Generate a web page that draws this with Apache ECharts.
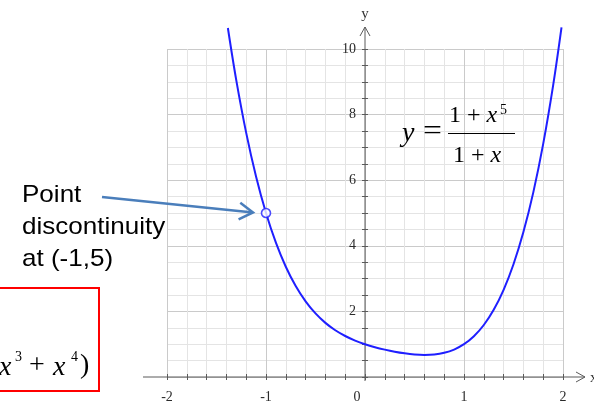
<!DOCTYPE html>
<html><head><meta charset="utf-8">
<script src="https://cdn.jsdelivr.net/npm/echarts@6/dist/echarts.min.js"></script>
<style>html,body{margin:0;padding:0;background:#fff;overflow:hidden}#c{width:594px;height:404px}</style>
</head><body><div id="c"></div>
<script>
// Samples of y = (1 + x^5) / (1 + x) across the plotted range
const xs = [-1.385, -1.3, -1.2, -1.1, -1.0, -0.9, -0.8, -0.7, -0.6, -0.5, -0.4, -0.3, -0.2, -0.1, 0,
            0.1, 0.2, 0.3, 0.4, 0.5, 0.6, 0.7, 0.8, 0.9, 1.0, 1.1, 1.2, 1.3, 1.4, 1.5, 1.6, 1.7, 1.8, 1.9, 1.985];
const ys = [10.64, 9.043, 7.442, 6.105, 5.0, 4.095, 3.362, 2.773, 2.306, 1.938, 1.65, 1.425, 1.25, 1.111, 1.0,
            0.909, 0.834, 0.771, 0.722, 0.688, 0.674, 0.687, 0.738, 0.837, 1.0, 1.243, 1.586, 2.049, 2.658, 3.438,
            4.418, 5.629, 7.106, 8.883, 10.659];
// Removable discontinuity
const holePoint = [-1, 5];
// Tick labels
const xLabels = [-2, -1, 0, 1, 2];
const yLabels = [2, 4, 6, 8, 10];

const AXIS = '#5a5a5a';
const SERIF = '"Liberation Serif", "Times New Roman", serif';
const SANS = '"Liberation Sans", Arial, sans-serif';
const curve = xs.map((x, i) => [x, ys[i]]);

const chart = echarts.init(document.getElementById('c'));

const tickAxisX = (inside) => ({
  type: 'value', min: -2, max: 2, interval: 1, position: 'bottom',
  axisLine: { show: false, onZero: false },
  axisTick: { show: true, inside: inside, length: 3, lineStyle: { color: AXIS } },
  minorTick: { show: true, splitNumber: 5, length: 3, lineStyle: { color: AXIS } },
  splitLine: { show: !inside, lineStyle: { color: '#cacaca', width: 1 } },
  minorSplitLine: { show: !inside, lineStyle: { color: '#e4e4e4', width: 1 } },
  axisLabel: inside ? { show: false } : {
    show: true, margin: 13, color: '#2a2a2a', fontFamily: SERIF, fontSize: 14,
    formatter: v => xLabels.includes(v) ? (v === 0 ? '{z|0}' : String(v)) : '',
    rich: { z: { fontFamily: SERIF, fontSize: 14, color: '#2a2a2a', padding: [0, 16, 0, 0] } }
  }
});
const tickAxisY = (inside) => ({
  type: 'value', min: 0, max: 10, interval: 2, position: 'left',
  axisLine: { show: false, onZero: false },
  axisTick: { show: true, inside: inside, length: 3, lineStyle: { color: AXIS } },
  minorTick: { show: true, splitNumber: 4, length: 3, lineStyle: { color: AXIS } },
  splitLine: { show: !inside, lineStyle: { color: '#cacaca', width: 1 } },
  minorSplitLine: { show: !inside, lineStyle: { color: '#e4e4e4', width: 1 } },
  axisLabel: inside ? { show: false } : {
    show: true, margin: 9, color: '#2a2a2a', fontFamily: SERIF, fontSize: 14,
    formatter: v => yLabels.includes(v) ? String(v) : ''
  }
});

chart.setOption({
  animation: false,
  backgroundColor: '#fff',
  grid: { left: 167, right: 31, top: 49, bottom: 26 },
  xAxis: [tickAxisX(false), tickAxisX(true)],
  yAxis: [tickAxisY(false), tickAxisY(true)],
  series: [
    {
      type: 'line', data: curve, xAxisIndex: 0, yAxisIndex: 0,
      showSymbol: false, smooth: 0.35, clip: false,
      lineStyle: { color: '#1f1fff', width: 2 }, z: 3
    },
    {
      type: 'scatter', data: [holePoint], xAxisIndex: 0, yAxisIndex: 0,
      symbol: 'circle', symbolSize: 9, clip: false,
      itemStyle: { color: '#fff', borderColor: '#1f1fff', borderWidth: 1.6 }, z: 4
    }
  ]
});

// Pixel anchors taken from the axis scales
const P = (x, y) => chart.convertToPixel({ gridIndex: 0 }, [x, y]);
const o = P(0, 0), xl = P(-2, 0), xr = P(2, 0), yt = P(0, 10), hole = P(holePoint[0], holePoint[1]);

// Move the vertical axes onto x = 0
const yShift = -(o[0] - xl[0]);
chart.setOption({ yAxis: [{ offset: yShift }, { offset: yShift }] });

const xTipX = xr[0] + 22, yTipY = yt[1] - 22;
const line = (pts, color, w) => ({ type: 'polyline', shape: { points: pts }, style: { stroke: color, lineWidth: w, fill: null }, silent: true });

// annotation arrow toward the hole
const tip = [hole[0] - 13, hole[1] - 0.5];
const start = [102, 197];
const ang = Math.atan2(tip[1] - start[1], tip[0] - start[0]);
const wing = (d) => [tip[0] - 16 * Math.cos(ang + d), tip[1] - 16 * Math.sin(ang + d)];

const txt = (x, y, text, opts, extra) => Object.assign({ type: 'text', x: x, y: y, silent: true,
  style: Object.assign({ text: text, fill: '#000', align: 'left', verticalAlign: 'middle' }, opts) }, extra || {});
const serifI = { fontFamily: SERIF, fontStyle: 'italic' };
const frac = { r: { fontFamily: SERIF, fontSize: 24, fill: '#000' }, i: { fontFamily: SERIF, fontStyle: 'italic', fontSize: 24, fill: '#000' } };
const wide = { scaleX: 1.085 };

chart.setOption({
  graphic: [
    line([[xl[0] - 24, o[1]], [xTipX, o[1]]], AXIS, 1),
    line([[xTipX - 9, o[1] - 5], [xTipX, o[1]], [xTipX - 9, o[1] + 5]], AXIS, 1),
    line([[o[0], o[1] + 4], [o[0], yTipY]], AXIS, 1),
    line([[o[0] - 5, yTipY + 9], [o[0], yTipY], [o[0] + 5, yTipY + 9]], AXIS, 1),
    txt(o[0], yTipY - 13, 'y', { fontFamily: SERIF, fontSize: 15, fill: '#333', align: 'center' }),
    txt(xTipX + 5, o[1] + 1, 'x', { fontFamily: SERIF, fontSize: 15, fill: '#333' }),

    // formula y = (1 + x^5) / (1 + x)
    txt(402, 134, 'y', Object.assign({ fontSize: 28 }, serifI)),
    txt(423, 132, '=', { fontFamily: SERIF, fontSize: 28 }, { scaleX: 1.2 }),
    { type: 'text', x: 449, y: 116, silent: true, style: { text: '{r|1 + }{i|x}', verticalAlign: 'middle', align: 'left', rich: frac } },
    txt(500, 110, '5', { fontFamily: SERIF, fontSize: 14 }),
    line([[448, 133.5], [515, 133.5]], '#000', 1.2),
    { type: 'text', x: 453, y: 156, silent: true, style: { text: '{r|1 + }{i|x}', verticalAlign: 'middle', align: 'left', rich: frac } },

    // point discontinuity callout
    txt(22, 195, 'Point', { fontFamily: SANS, fontSize: 24 }, wide),
    txt(22, 227, 'discontinuity', { fontFamily: SANS, fontSize: 24 }, wide),
    txt(22, 259, 'at (-1,5)', { fontFamily: SANS, fontSize: 24 }, wide),
    line([start, tip], '#4a7ebb', 2.5),
    line([wing(0.55), tip, wing(-0.55)], '#4a7ebb', 2.5),

    // boxed simplification
    { type: 'rect', shape: { x: -6, y: 288, width: 105, height: 103 }, style: { stroke: '#ff0000', lineWidth: 2, fill: null }, silent: true },
    txt(-1, 368, 'x', Object.assign({ fontSize: 28 }, serifI)),
    txt(15, 357, '3', { fontFamily: SERIF, fontSize: 14 }),
    txt(29, 366, '+', { fontFamily: SERIF, fontSize: 28 }),
    txt(53, 368, 'x', Object.assign({ fontSize: 28 }, serifI)),
    txt(71, 357, '4', { fontFamily: SERIF, fontSize: 14 }),
    txt(80, 366, ')', { fontFamily: SERIF, fontSize: 28 })
  ]
});
</script>
</body></html>
